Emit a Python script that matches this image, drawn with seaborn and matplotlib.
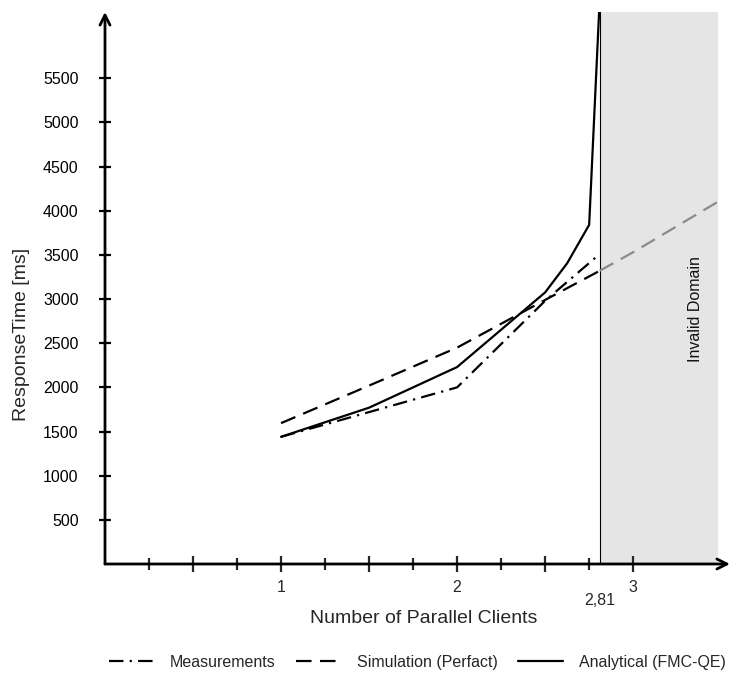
import numpy as np
import pandas as pd
import matplotlib
matplotlib.use("Agg")
import matplotlib.pyplot as plt
import seaborn as sns

# ---- data ----
meas_x = [1, 1.5, 2, 2.5, 2.81]
meas_y = [1440, 1720, 2000, 2980, 3510]

sim_x = [1, 1.5, 2, 2.5, 2.81, 3.0, 3.48]
sim_y = [1595, 2020, 2450, 2990, 3320, 3530, 4100]

ana_x = [1, 1.5, 2, 2.5, 2.625, 2.75, 2.81]
ana_y = [1440, 1770, 2230, 3075, 3405, 3840, 6400]

series_names = ["Measurements", "Simulation (Perfact)", "Analytical (FMC-QE)"]
limit_x = 2.81
invalid_end = 3.48

yticks = [500, 1000, 1500, 2000, 2500, 3000, 3500, 4000, 4500, 5000, 5500]
xlabel_pos = [1, 2, 3]
xlabel_txt = ["1", "2", "3"]
limit_label = "2,81"

# ---- figure ----
sns.set_style("white")
plt.rcParams["font.family"] = ["Liberation Sans", "DejaVu Sans"]

fig = plt.figure(figsize=(7.36, 6.77), dpi=100)
ax = fig.add_axes([105 / 736, 1 - 564 / 677, 625 / 736, 552 / 677])
ax.set_xlim(0, 3.55)
ax.set_ylim(0, 6250)

# invalid domain
ax.axvspan(limit_x, invalid_end, color="#e5e5e5", lw=0, zorder=0)
ax.axvline(limit_x, color="black", lw=0.8, zorder=1)
ax.text(3.355, 2885, "Invalid Domain", rotation=90,
        ha="center", va="center", fontsize=11.5, color="#111111")

sim_valid = [(x, y) for x, y in zip(sim_x, sim_y) if x <= limit_x]
sim_invalid = [(x, y) for x, y in zip(sim_x, sim_y) if x >= limit_x]

rows = []
for x, y in zip(meas_x, meas_y):
    rows.append((x, y, series_names[0]))
for x, y in sim_valid:
    rows.append((x, y, series_names[1]))
for x, y in zip(ana_x, ana_y):
    rows.append((x, y, series_names[2]))
df = pd.DataFrame(rows, columns=["x", "y", "series"])

sns.lineplot(data=df, x="x", y="y", style="series", style_order=series_names,
             dashes={series_names[0]: (6.5, 2.8, 1, 2.8),
                     series_names[1]: (7, 3.8),
                     series_names[2]: ""},
             color="black", lw=1.6, estimator=None, ax=ax, zorder=3)

inv = pd.DataFrame(sim_invalid, columns=["x", "y"])
sns.lineplot(data=inv, x="x", y="y", color="#8a8a8a", lw=1.6,
             linestyle=(0, (7, 3.8)), estimator=None, ax=ax, legend=False, zorder=2)

# axes with arrows
for s in ax.spines.values():
    s.set_visible(False)
ax.annotate("", xy=(0, 1.0), xytext=(0, 0), xycoords="axes fraction",
            arrowprops=dict(arrowstyle="->", lw=2, color="black",
                            shrinkA=0, shrinkB=0, mutation_scale=18))
ax.annotate("", xy=(1.0, 0), xytext=(0, 0), xycoords="axes fraction",
            arrowprops=dict(arrowstyle="->", lw=2, color="black",
                            shrinkA=0, shrinkB=0, mutation_scale=18))

ax.set_yticks(yticks)
ax.set_yticklabels([str(v) for v in yticks], fontsize=11.5)
ax.tick_params(axis="y", direction="inout", length=9, width=1.6, pad=14.5,
               colors="black", left=True)
ax.set_xticks(np.arange(0.5, 3.01, 0.5))
ax.set_xticks(np.arange(0.25, 2.76, 0.5), minor=True)
ax.set_xticklabels([])
ax.tick_params(axis="x", which="major", direction="inout", length=12, width=1.6,
               bottom=True)
ax.tick_params(axis="x", which="minor", direction="inout", length=9, width=1.6,
               bottom=True)

trans = ax.get_xaxis_transform()
for p, t in zip(xlabel_pos, xlabel_txt):
    ax.text(p, -0.043, t, transform=trans, ha="center", va="center", fontsize=11.5)
ax.text(limit_x, -0.067, limit_label, transform=trans, ha="center", va="center",
        fontsize=11.5)

ax.set_ylabel("ResponseTime [ms]", fontsize=14)
ax.yaxis.set_label_coords(-0.12, 0.415)
ax.set_xlabel("Number of Parallel Clients", fontsize=14)
ax.xaxis.set_label_coords(0.51, -0.083)

sns.move_legend(ax, "center", bbox_to_anchor=(0.5, -0.178), ncol=3,
                frameon=False, title=None, fontsize=11.5, handlelength=2.8,
                handletextpad=1.0, columnspacing=1.3)

fig.savefig("out.png", dpi=100)
